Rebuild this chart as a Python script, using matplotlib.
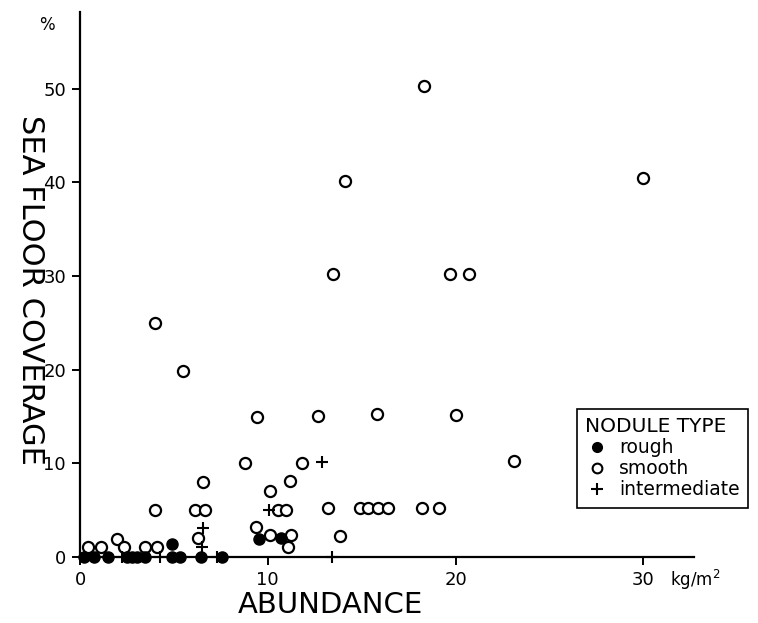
import matplotlib
matplotlib.use("Agg")
import matplotlib.pyplot as plt
from matplotlib.lines import Line2D

# rough nodules (filled circles)
rough_x = [0.23, 0.76, 1.51, 2.49, 2.75, 3.02, 3.46, 4.88, 5.33, 6.45, 7.55, 4.88, 9.54, 10.71]
rough_y = [0, 0, 0, 0, 0, 0, 0, 0, 0, 0, 0, 1.4, 1.9, 2.0]

# smooth nodules (open circles)
smooth_x = [18.3, 14.1, 30.0, 13.5, 19.7, 20.7, 4.0, 5.5, 9.4, 12.7, 15.8, 20.0,
            8.8, 11.8, 23.1, 6.55, 11.2, 10.1,
            4.0, 6.13, 6.66, 10.57, 10.96, 13.2, 14.9, 15.36, 15.89, 16.42, 18.2, 19.1,
            9.38, 6.3, 10.12, 11.24, 11.06, 13.85, 0.41, 1.12, 1.95, 2.36, 3.46, 4.08]
smooth_y = [50.3, 40.2, 40.5, 30.2, 30.2, 30.2, 25.0, 19.9, 15.0, 15.1, 15.3, 15.2,
            10.0, 10.0, 10.3, 8.0, 8.1, 7.0,
            5.0, 5.0, 5.0, 5.0, 5.0, 5.2, 5.2, 5.2, 5.2, 5.2, 5.2, 5.2,
            3.2, 2.05, 2.35, 2.3, 1.1, 2.2, 1.1, 1.1, 1.9, 1.1, 1.1, 1.1]

# intermediate nodules (plus signs)
inter_x = [2.22, 4.26, 7.28, 13.4, 6.48, 6.57, 10.09, 12.9]
inter_y = [0, 0, 0, 0, 1.1, 3.07, 5.0, 10.1]

x_ticks = [0, 10, 20, 30]
y_ticks = [0, 10, 20, 30, 40, 50]

fig = plt.figure(figsize=(7.58, 6.23), dpi=100)
ax = fig.add_axes([80 / 758, 1 - 557 / 623, 614 / 758, 545 / 623])

ax.plot(smooth_x, smooth_y, 'o', ms=8, mfc='white', mec='black', mew=1.6,
        linestyle='none', clip_on=False, zorder=3)
ax.plot(rough_x, rough_y, 'o', ms=8, mfc='black', mec='black', mew=1.0,
        linestyle='none', clip_on=False, zorder=4)
ax.plot(inter_x, inter_y, '+', ms=9, mec='black', mew=1.5,
        linestyle='none', clip_on=False, zorder=4)

ax.set_xlim(0, 32.7)
ax.set_ylim(0, 58.2)
ax.set_xticks(x_ticks)
ax.set_yticks(y_ticks)
ax.spines['top'].set_visible(False)
ax.spines['right'].set_visible(False)
for s in ['left', 'bottom']:
    ax.spines[s].set_linewidth(1.6)
ax.tick_params(direction='out', length=6, width=1.4, labelsize=13, pad=4)

fig.text(330 / 758, 1 - 605 / 623, 'ABUNDANCE', fontsize=21, ha='center', va='center')
fig.text(30 / 758, 1 - 290 / 623, 'SEA FLOOR COVERAGE', fontsize=22,
         rotation=270, ha='center', va='center')
fig.text(47 / 758, 1 - 25 / 623, '%', fontsize=12, ha='center', va='center')
fig.text(670 / 758, 1 - 580 / 623, 'kg/m$^2$', fontsize=12, ha='left', va='center')

handles = [
    Line2D([], [], marker='o', ls='none', ms=7, mfc='black', mec='black'),
    Line2D([], [], marker='o', ls='none', ms=7, mfc='white', mec='black', mew=1.5),
    Line2D([], [], marker='+', ls='none', ms=8, mec='black', mew=1.5),
]
leg = ax.legend(handles, ['rough', 'smooth', 'intermediate'], title='NODULE TYPE',
                loc='upper left', bbox_to_anchor=(577 / 758, 1 - 409 / 623),
                bbox_transform=fig.transFigure, fontsize=13.5, title_fontsize=14.5,
                frameon=True, fancybox=False, edgecolor='black', framealpha=1,
                handlelength=1.2, handletextpad=0.6, labelspacing=0.1,
                borderpad=0.45, borderaxespad=0)
leg.get_frame().set_linewidth(1.2)
leg._legend_box.align = 'left'

fig.savefig('out.png', dpi=100)
